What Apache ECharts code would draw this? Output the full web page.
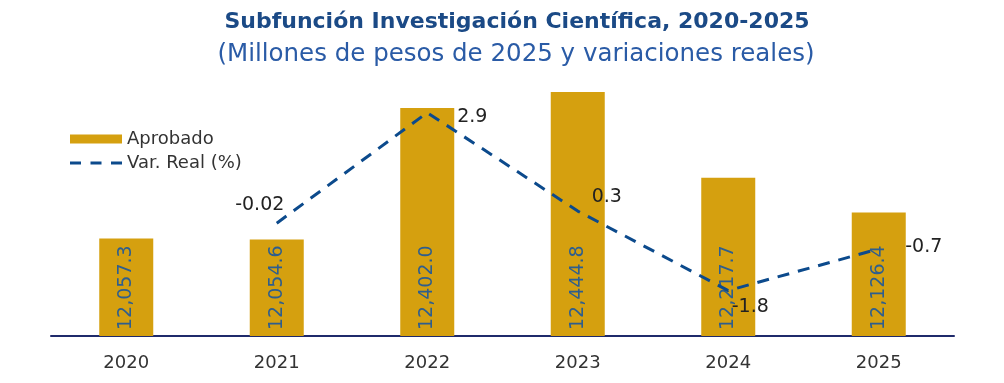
<!DOCTYPE html>
<html>
<head>
<meta charset="utf-8">
<script src="https://cdn.jsdelivr.net/npm/echarts@6/dist/echarts.min.js"></script>
<style>
html,body{margin:0;padding:0;background:#fff;}
#c{width:1004px;height:383px;}
</style>
</head>
<body>
<div id="c"></div>
<script>
const categories = ['2020','2021','2022','2023','2024','2025'];
const aprobado = [12057.3, 12054.6, 12402.0, 12444.8, 12217.7, 12126.4];
const varReal = [null, -0.02, 2.9, 0.3, -1.8, -0.7];
const varLabels = ['', '-0.02', '2.9', '0.3', '-1.8', '-0.7'];
const labelOffsets = [[0,0], [-17,-18], [45,4], [29,-14], [22,16], [45,-2]];

const FONT = '"DejaVu Sans", sans-serif';
const chart = echarts.init(document.getElementById('c'));
const lineData = varReal.map((v, i) => v === null ? null : {
  value: v,
  label: { offset: labelOffsets[i], formatter: varLabels[i] }
});
chart.setOption({
  animation: false,
  title: [{
    text: 'Subfunción Investigación Científica, 2020-2025',
    left: 512, top: 6, textAlign: 'center',
    textStyle: { fontFamily: FONT, fontWeight: 'bold', fontSize: 22, color: '#1B4A86' }
  }, {
    text: '(Millones de pesos de 2025 y variaciones reales)',
    left: 511, top: 37, textAlign: 'center',
    textStyle: { fontFamily: FONT, fontWeight: 'normal', fontSize: 24.5, color: '#2A5BA6' }
  }],
  legend: {
    orient: 'vertical', left: 65, top: 125, itemGap: 6, itemStyle: {},
    itemWidth: 52, itemHeight: 9,
    textStyle: { fontFamily: FONT, fontSize: 18, color: '#333' },
    data: [
      { name: 'Aprobado', icon: 'rect' },
      { name: 'Var. Real (%)', icon: 'path://M0,3h11v3H0z M20.5,3h11v3H20.5z M41,3h11v3H41z' }
    ]
  },
  grid: { left: 51, right: 50, top: 71, bottom: 47 },
  xAxis: {
    type: 'category', data: categories,
    axisLine: { onZero: false, lineStyle: { color: '#1F2A6B', width: 2 } },
    axisTick: { show: false },
    axisLabel: { fontFamily: FONT, fontSize: 18, color: '#333', margin: 18 }
  },
  yAxis: [{
    type: 'value', min: 11800, max: 12500, interval: 100, show: false,
    splitLine: { show: false }
  }, {
    type: 'value', min: -3, max: 4, interval: 1, show: false,
    splitLine: { show: false }
  }],
  series: [{
    name: 'Aprobado', type: 'bar', data: aprobado, barWidth: 54,
    itemStyle: { color: '#D5A00F' },
    label: {
      show: true, position: 'insideBottom', rotate: 90,
      align: 'left', verticalAlign: 'middle', distance: 6,
      fontFamily: FONT, fontSize: 19, color: '#2E5E8E',
      formatter: p => p.value.toLocaleString('en-US', { minimumFractionDigits: 1, maximumFractionDigits: 1 })
    }
  }, {
    name: 'Var. Real (%)', type: 'line', yAxisIndex: 1, data: lineData,
    symbol: 'circle', symbolSize: 0.1, showSymbol: true, connectNulls: false,
    lineStyle: { color: '#0C4A8C', width: 3, type: [12, 9] },
    itemStyle: { color: '#0C4A8C' },
    label: {
      show: true, position: 'inside', align: 'center', verticalAlign: 'middle',
      fontFamily: FONT, fontSize: 19, color: '#222'
    }
  }]
});
</script>
</body>
</html>
